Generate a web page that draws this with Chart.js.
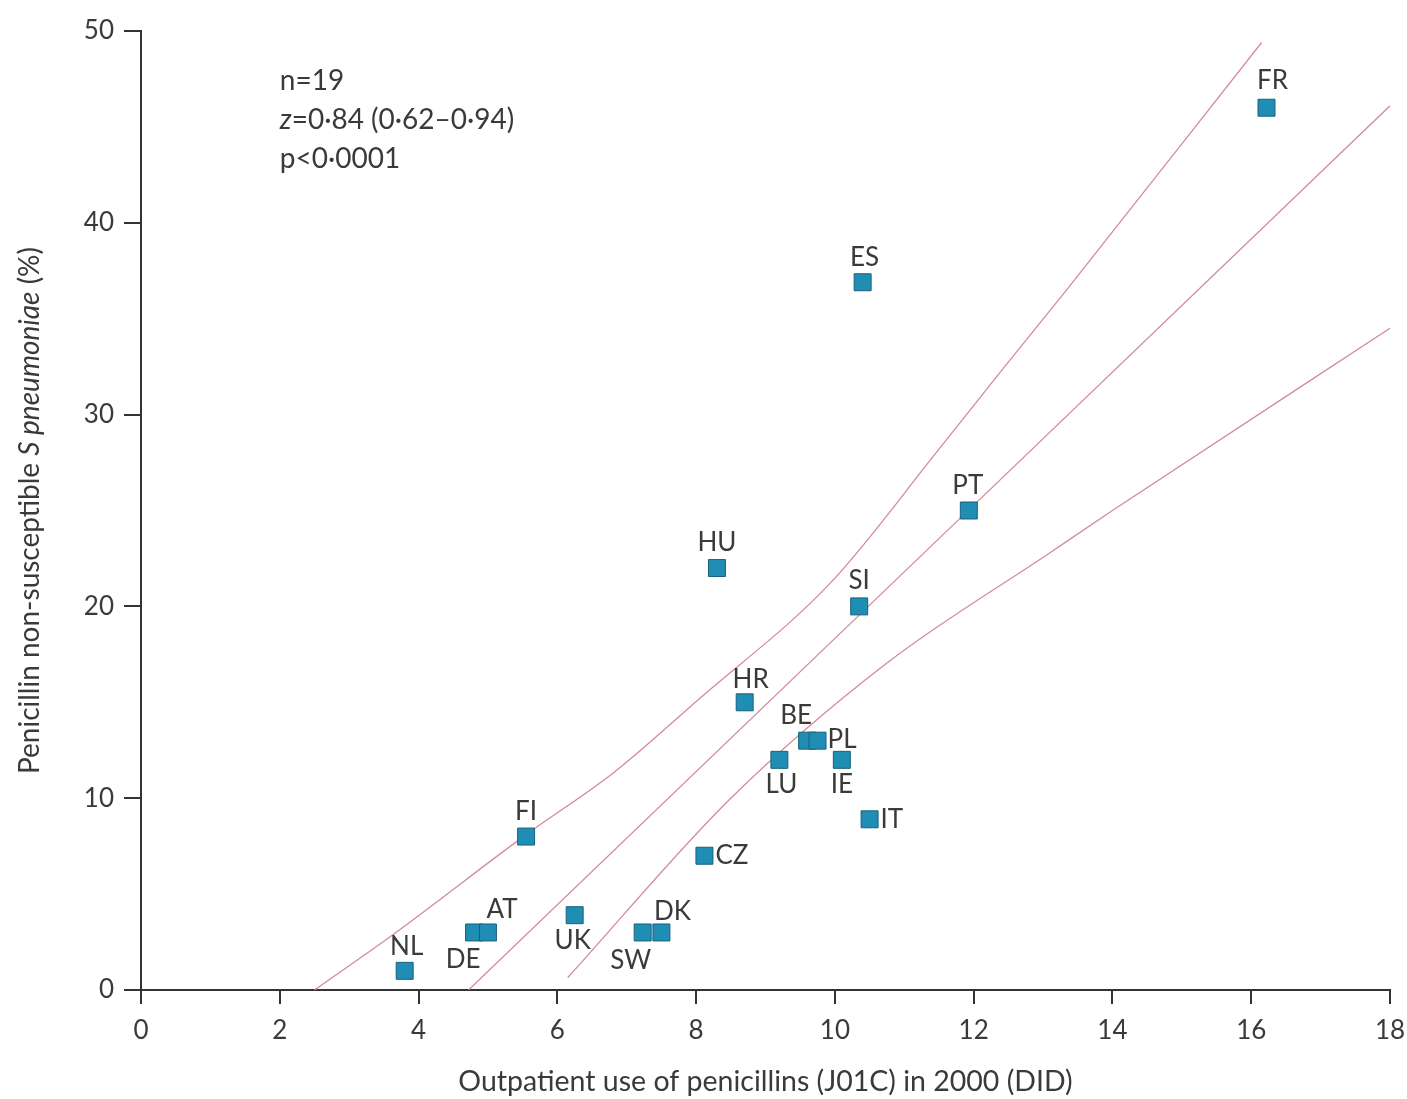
<!DOCTYPE html>
<html>
<head>
<meta charset="utf-8">
<script src="https://cdn.jsdelivr.net/npm/chart.js@4.4.1/dist/chart.umd.min.js"></script>
<style>
    html, body { margin: 0; padding: 0; background: #fff; }
    #wrap { width: 1407px; height: 1099px; }
</style>
</head>
<body>
<div id="wrap"><canvas id="chart" width="1407" height="1099"></canvas></div>
<script>
const countries = ['NL', 'DE', 'AT', 'FI', 'UK', 'SW', 'DK', 'CZ', 'HU', 'HR', 'LU', 'BE', 'PL', 'IE', 'SI', 'ES', 'IT', 'PT', 'FR'];
const useDID    = [3.8, 4.8, 5.0, 5.55, 6.25, 7.23, 7.5, 8.12, 8.3, 8.7, 9.2, 9.6, 9.75, 10.1, 10.35, 10.4, 10.5, 11.93, 16.22];
const resistPct = [1, 3, 3, 8, 3.9, 3, 3, 7, 22, 15, 12, 13, 13, 12, 20, 36.9, 8.9, 25, 46];

// regression line and its confidence band
const fitX   = [4.72, 18];
const fitY   = [0, 46.1];
const upperX = [2.5, 3.6, 5.55, 6.8, 8.05, 9.93, 11.5, 12.38, 13.34, 16.15];
const upperY = [0, 2.8, 8.1, 11.3, 15.2, 21.2, 28.2, 32.2, 36.5, 49.4];
const lowerX = [6.15, 8.5, 10.75, 13.1, 14.0, 18];
const lowerY = [0.65, 10, 17.05, 22.8, 25.0, 34.5];

const xTicks = [0, 2, 4, 6, 8, 10, 12, 14, 16, 18];
const yTicks = [0, 10, 20, 30, 40, 50];

const statLines = [
    [{ t: 'n=19' }],
    [{ t: 'z', it: true }, { t: '=0·84 (0·62–0·94)' }],
    [{ t: 'p<0·0001' }]
];

// where each country label sits relative to its square
const labelPos = {
    NL: [2, -24, 'center'], DE: [-11, 27, 'center'], AT: [14, -23, 'center'],
    FI: [0, -25, 'center'], UK: [-2, 25, 'center'], SW: [-12, 28, 'center'],
    DK: [11, -21, 'center'], CZ: [11, 0, 'left'], HU: [0, -25, 'center'],
    HR: [6, -23, 'center'], LU: [2, 25, 'center'], BE: [-11, -25, 'center'],
    PL: [10, -1, 'left'], IE: [0, 25, 'center'], SI: [0, -26, 'center'],
    ES: [2, -25, 'center'], IT: [11, 0, 'left'], PT: [-1, -25, 'center'],
    FR: [6, -27, 'center']
};

const FONT = 'Lato';
const INK = '#3a3a3a';
const AXIS = '#333';
const LINE = '#d48a9b';

const toXY = (xs, ys) => xs.map((x, i) => ({ x: x, y: ys[i] }));

const labelPlugin = {
    id: 'labels',
    afterDatasetsDraw(chart) {
        const ctx = chart.ctx;
        const meta = chart.getDatasetMeta(0);
        ctx.save();
        ctx.font = '26px ' + FONT;
        ctx.fillStyle = INK;
        ctx.textBaseline = 'middle';
        meta.data.forEach((pt, i) => {
            const p = labelPos[countries[i]];
            ctx.textAlign = p[2];
            ctx.fillText(countries[i], pt.x + p[0], pt.y + p[1]);
        });

        // stats block
        const sx = chart.scales.x.getPixelForValue(2.0);
        const sy = chart.scales.y.getPixelForValue(47.4);
        ctx.textAlign = 'left';
        statLines.forEach((line, k) => {
            let x = sx;
            line.forEach(seg => {
                ctx.font = (seg.it ? 'italic ' : '') + '28px ' + FONT;
                ctx.fillText(seg.t, x, sy + k * 39);
                x += ctx.measureText(seg.t).width;
            });
        });

        // y axis title with italic species name
        const area = chart.chartArea;
        const parts = [
            { t: 'Penicillin non-susceptible ' },
            { t: 'S pneumoniae', it: true },
            { t: ' (%)' }
        ];
        let total = 0;
        parts.forEach(seg => {
            ctx.font = (seg.it ? 'italic ' : '') + '28px ' + FONT;
            seg.w = ctx.measureText(seg.t).width;
            total += seg.w;
        });
        ctx.translate(30, (area.top + area.bottom) / 2);
        ctx.rotate(-Math.PI / 2);
        let x = -total / 2;
        parts.forEach(seg => {
            ctx.font = (seg.it ? 'italic ' : '') + '28px ' + FONT;
            ctx.fillText(seg.t, x, 0);
            x += seg.w;
        });
        ctx.restore();
    }
};

const lineSet = (data) => ({
    data: data,
    showLine: true,
    borderColor: LINE,
    borderWidth: 1.3,
    pointRadius: 0,
    cubicInterpolationMode: 'monotone',
    fill: false
});

new Chart(document.getElementById('chart'), {
    type: 'scatter',
    data: {
        datasets: [
            {
                data: toXY(useDID, resistPct),
                pointStyle: 'rect',
                pointRadius: 12,
                backgroundColor: '#1f8db4',
                borderColor: '#17617c',
                borderWidth: 1
            },
            lineSet(toXY(fitX, fitY)),
            lineSet(toXY(upperX, upperY)),
            lineSet(toXY(lowerX, lowerY))
        ]
    },
    options: {
        responsive: false,
        animation: false,
        layout: { padding: { left: 0, right: 17, top: 31, bottom: 0 } },
        plugins: {
            legend: { display: false },
            tooltip: { enabled: false }
        },
        scales: {
            x: {
                type: 'linear',
                min: 0,
                max: 18,
                afterBuildTicks: s => { s.ticks = xTicks.map(v => ({ value: v })); },
                afterFit: s => { s.height = 109; s.paddingLeft = 0; s.paddingRight = 0; },
                ticks: { color: INK, font: { family: FONT, size: 26 }, padding: 11, maxRotation: 0 },
                grid: { drawOnChartArea: false, drawTicks: true, tickLength: 14, color: AXIS, lineWidth: 2 },
                border: { display: true, color: AXIS, width: 2 },
                title: {
                    display: true,
                    text: 'Outpatient use of penicillins (J01C) in 2000 (DID)',
                    color: INK,
                    font: { family: FONT, size: 28.5 },
                    padding: { top: 0, bottom: 0 }
                }
            },
            y: {
                type: 'linear',
                min: 0,
                max: 50,
                afterBuildTicks: s => { s.ticks = yTicks.map(v => ({ value: v })); },
                afterFit: s => { s.width = 141; s.paddingTop = 0; s.paddingBottom = 0; },
                ticks: { color: INK, font: { family: FONT, size: 26 }, padding: 10 },
                grid: { drawOnChartArea: false, drawTicks: true, tickLength: 17, color: AXIS, lineWidth: 2 },
                border: { display: true, color: AXIS, width: 2 }
            }
        }
    },
    plugins: [labelPlugin]
});
</script>
</body>
</html>
